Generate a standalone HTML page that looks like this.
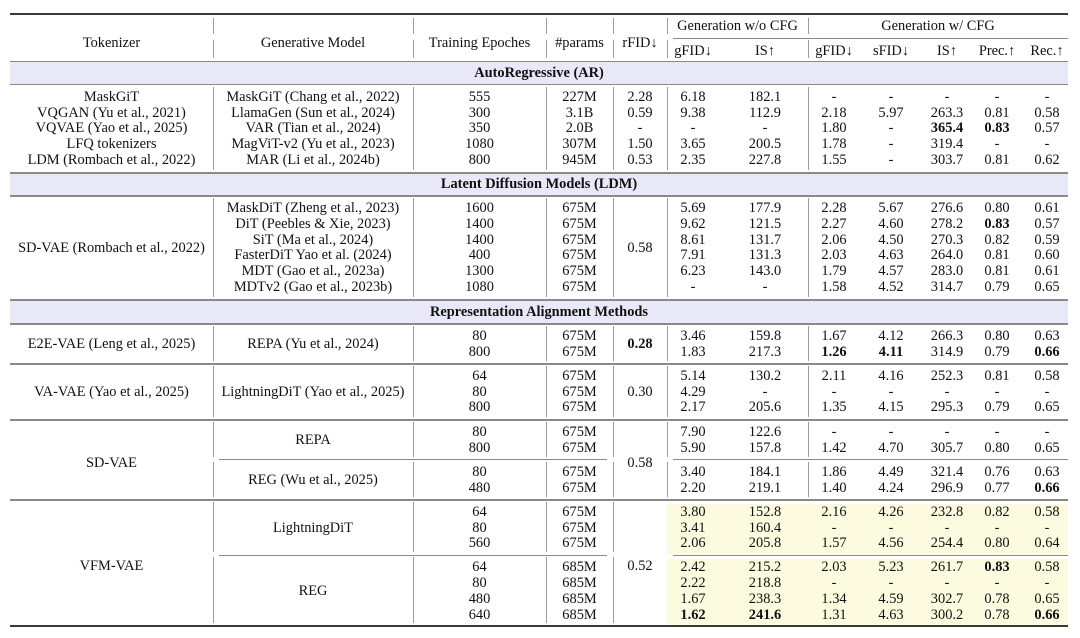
<!DOCTYPE html>
<html>
<head>
<meta charset="utf-8">
<style>
html,body{margin:0;padding:0;background:#fff;}
body{width:1080px;height:638px;position:relative;overflow:hidden;font-family:"Liberation Serif","Times New Roman",serif;font-size:14.4px;color:#111;}
.h{position:absolute;left:10px;width:1058px;height:1.5px;background:#8a8a8a;}
.hk{position:absolute;left:10px;width:1058px;height:1.6px;background:#3a3a3a;}
.cl{position:absolute;height:1.2px;background:#8a8a8a;}
.v{position:absolute;width:1px;background:#9c9c9c;}
.band{position:absolute;left:10px;width:1058px;background:#e8e8f8;}
.yl{position:absolute;left:667px;width:401px;background:#fcfadf;}
.r{position:absolute;left:0;width:1080px;height:16px;line-height:16px;}
.r span{position:absolute;top:0;height:16px;text-align:center;white-space:nowrap;}
.bt{position:absolute;left:10px;width:1058px;height:16px;line-height:16px;text-align:center;font-weight:bold;}
.c1{left:10px;width:203px;}
.c2{left:213px;width:200px;}
.c3{left:413px;width:133px;}
.c4{left:546px;width:67px;}
.c5{left:613px;width:54px;}
.c6{left:663px;width:60px;}
.c7{left:725px;width:80px;}
.c8{left:809px;width:50px;}
.c9{left:866px;width:50px;}
.c10{left:917px;width:60px;}
.c11{left:972px;width:50px;}
.c12{left:1022px;width:50px;}
.g1{left:667px;width:141px;}
.g2{left:808px;width:260px;}
</style>
</head>
<body>

<!-- bands & highlights -->
<div class="band" style="top:62px;height:21.5px"></div>
<div class="band" style="top:173.5px;height:21.5px"></div>
<div class="band" style="top:300.5px;height:22.5px"></div>
<div class="yl" style="top:503.5px;height:51px"></div>
<div class="yl" style="top:559px;height:65.5px"></div>

<!-- horizontal rules -->
<div class="hk" style="top:13.2px"></div>
<div class="cl" style="top:37.5px;left:673px;width:395px"></div>
<div class="h" style="top:60.5px"></div>
<div class="h" style="top:83.5px"></div>
<div class="h" style="top:172px"></div>
<div class="h" style="top:195px"></div>
<div class="h" style="top:299px"></div>
<div class="h" style="top:323px"></div>
<div class="h" style="top:363px"></div>
<div class="h" style="top:419px"></div>
<div class="cl" style="top:459px;left:219px;width:388px"></div>
<div class="cl" style="top:459px;left:673px;width:395px"></div>
<div class="h" style="top:499px"></div>
<div class="cl" style="top:554.5px;left:219px;width:388px"></div>
<div class="cl" style="top:554.5px;left:673px;width:395px"></div>
<div class="hk" style="top:625.3px"></div>

<!-- vertical rules: header -->
<div class="v" style="left:212.5px;top:18px;height:16px"></div>
<div class="v" style="left:412.5px;top:18px;height:16px"></div>
<div class="v" style="left:545.5px;top:18px;height:16px"></div>
<div class="v" style="left:612.5px;top:18px;height:16px"></div>
<div class="v" style="left:666.5px;top:18px;height:16px"></div>
<div class="v" style="left:807.5px;top:18px;height:16px"></div>
<div class="v" style="left:212.5px;top:40px;height:18px"></div>
<div class="v" style="left:412.5px;top:40px;height:18px"></div>
<div class="v" style="left:545.5px;top:40px;height:18px"></div>
<div class="v" style="left:612.5px;top:40px;height:18px"></div>
<div class="v" style="left:666.5px;top:40px;height:18px"></div>
<div class="v" style="left:807.5px;top:40px;height:18px"></div>
<!-- AR block -->
<div class="v" style="left:212.5px;top:87px;height:83px"></div>
<div class="v" style="left:412.5px;top:87px;height:83px"></div>
<div class="v" style="left:545.5px;top:87px;height:83px"></div>
<div class="v" style="left:612.5px;top:87px;height:83px"></div>
<div class="v" style="left:666.5px;top:87px;height:83px"></div>
<div class="v" style="left:807.5px;top:87px;height:83px"></div>
<!-- LDM block -->
<div class="v" style="left:212.5px;top:198px;height:99px"></div>
<div class="v" style="left:412.5px;top:198px;height:99px"></div>
<div class="v" style="left:545.5px;top:198px;height:99px"></div>
<div class="v" style="left:612.5px;top:198px;height:99px"></div>
<div class="v" style="left:666.5px;top:198px;height:99px"></div>
<div class="v" style="left:807.5px;top:198px;height:99px"></div>
<!-- E2E block -->
<div class="v" style="left:212.5px;top:326px;height:35px"></div>
<div class="v" style="left:412.5px;top:326px;height:35px"></div>
<div class="v" style="left:545.5px;top:326px;height:35px"></div>
<div class="v" style="left:612.5px;top:326px;height:35px"></div>
<div class="v" style="left:666.5px;top:326px;height:35px"></div>
<div class="v" style="left:807.5px;top:326px;height:35px"></div>
<!-- VA block -->
<div class="v" style="left:212.5px;top:366px;height:51px"></div>
<div class="v" style="left:412.5px;top:366px;height:51px"></div>
<div class="v" style="left:545.5px;top:366px;height:51px"></div>
<div class="v" style="left:612.5px;top:366px;height:51px"></div>
<div class="v" style="left:666.5px;top:366px;height:51px"></div>
<div class="v" style="left:807.5px;top:366px;height:51px"></div>
<!-- SD REPA block -->
<div class="v" style="left:212.5px;top:422px;height:35px"></div>
<div class="v" style="left:412.5px;top:422px;height:35px"></div>
<div class="v" style="left:545.5px;top:422px;height:35px"></div>
<div class="v" style="left:612.5px;top:422px;height:35px"></div>
<div class="v" style="left:666.5px;top:422px;height:35px"></div>
<div class="v" style="left:807.5px;top:422px;height:35px"></div>
<!-- SD REG block -->
<div class="v" style="left:212.5px;top:462px;height:35px"></div>
<div class="v" style="left:412.5px;top:462px;height:35px"></div>
<div class="v" style="left:545.5px;top:462px;height:35px"></div>
<div class="v" style="left:612.5px;top:462px;height:35px"></div>
<div class="v" style="left:666.5px;top:462px;height:35px"></div>
<div class="v" style="left:807.5px;top:462px;height:35px"></div>
<!-- VFM blocks -->
<div class="v" style="left:212.5px;top:502px;height:50px"></div>
<div class="v" style="left:412.5px;top:502px;height:50px"></div>
<div class="v" style="left:545.5px;top:502px;height:50px"></div>
<div class="v" style="left:612.5px;top:502px;height:50px"></div>
<div class="v" style="left:212.5px;top:557px;height:66px"></div>
<div class="v" style="left:412.5px;top:557px;height:66px"></div>
<div class="v" style="left:545.5px;top:557px;height:66px"></div>
<div class="v" style="left:612.5px;top:557px;height:66px"></div>

<!-- header -->
<div class="r" style="top:18px"><span class="g1">Generation w/o CFG</span><span class="g2">Generation w/ CFG</span></div>
<div class="r" style="top:34.5px"><span class="c1">Tokenizer</span><span class="c2">Generative Model</span><span class="c3">Training Epoches</span><span class="c4">#params</span><span class="c5">rFID↓</span></div>
<div class="r" style="top:43px"><span class="c6">gFID↓</span><span class="c7">IS↑</span><span class="c8">gFID↓</span><span class="c9">sFID↓</span><span class="c10">IS↑</span><span class="c11">Prec.↑</span><span class="c12">Rec.↑</span></div>

<!-- AR -->
<div class="bt" style="top:64.7px">AutoRegressive (AR)</div>
<div class="r" style="top:89px"><span class="c1">MaskGiT</span><span class="c2">MaskGiT (Chang et al., 2022)</span><span class="c3">555</span><span class="c4">227M</span><span class="c5">2.28</span><span class="c6">6.18</span><span class="c7">182.1</span><span class="c8">-</span><span class="c9">-</span><span class="c10">-</span><span class="c11">-</span><span class="c12">-</span></div>
<div class="r" style="top:104.7px"><span class="c1">VQGAN (Yu et al., 2021)</span><span class="c2">LlamaGen (Sun et al., 2024)</span><span class="c3">300</span><span class="c4">3.1B</span><span class="c5">0.59</span><span class="c6">9.38</span><span class="c7">112.9</span><span class="c8">2.18</span><span class="c9">5.97</span><span class="c10">263.3</span><span class="c11">0.81</span><span class="c12">0.58</span></div>
<div class="r" style="top:120.4px"><span class="c1">VQVAE (Yao et al., 2025)</span><span class="c2">VAR (Tian et al., 2024)</span><span class="c3">350</span><span class="c4">2.0B</span><span class="c5">-</span><span class="c6">-</span><span class="c7">-</span><span class="c8">1.80</span><span class="c9">-</span><span class="c10"><b>365.4</b></span><span class="c11"><b>0.83</b></span><span class="c12">0.57</span></div>
<div class="r" style="top:136.1px"><span class="c1">LFQ tokenizers</span><span class="c2">MagViT-v2 (Yu et al., 2023)</span><span class="c3">1080</span><span class="c4">307M</span><span class="c5">1.50</span><span class="c6">3.65</span><span class="c7">200.5</span><span class="c8">1.78</span><span class="c9">-</span><span class="c10">319.4</span><span class="c11">-</span><span class="c12">-</span></div>
<div class="r" style="top:151.8px"><span class="c1">LDM (Rombach et al., 2022)</span><span class="c2">MAR (Li et al., 2024b)</span><span class="c3">800</span><span class="c4">945M</span><span class="c5">0.53</span><span class="c6">2.35</span><span class="c7">227.8</span><span class="c8">1.55</span><span class="c9">-</span><span class="c10">303.7</span><span class="c11">0.81</span><span class="c12">0.62</span></div>

<!-- LDM -->
<div class="bt" style="top:176px">Latent Diffusion Models (LDM)</div>
<div class="r" style="top:239.5px"><span class="c1">SD-VAE (Rombach et al., 2022)</span><span class="c5">0.58</span></div>
<div class="r" style="top:200.3px"><span class="c2">MaskDiT (Zheng et al., 2023)</span><span class="c3">1600</span><span class="c4">675M</span><span class="c6">5.69</span><span class="c7">177.9</span><span class="c8">2.28</span><span class="c9">5.67</span><span class="c10">276.6</span><span class="c11">0.80</span><span class="c12">0.61</span></div>
<div class="r" style="top:216px"><span class="c2">DiT (Peebles &amp; Xie, 2023)</span><span class="c3">1400</span><span class="c4">675M</span><span class="c6">9.62</span><span class="c7">121.5</span><span class="c8">2.27</span><span class="c9">4.60</span><span class="c10">278.2</span><span class="c11"><b>0.83</b></span><span class="c12">0.57</span></div>
<div class="r" style="top:231.7px"><span class="c2">SiT (Ma et al., 2024)</span><span class="c3">1400</span><span class="c4">675M</span><span class="c6">8.61</span><span class="c7">131.7</span><span class="c8">2.06</span><span class="c9">4.50</span><span class="c10">270.3</span><span class="c11">0.82</span><span class="c12">0.59</span></div>
<div class="r" style="top:247.4px"><span class="c2">FasterDiT Yao et al. (2024)</span><span class="c3">400</span><span class="c4">675M</span><span class="c6">7.91</span><span class="c7">131.3</span><span class="c8">2.03</span><span class="c9">4.63</span><span class="c10">264.0</span><span class="c11">0.81</span><span class="c12">0.60</span></div>
<div class="r" style="top:263.1px"><span class="c2">MDT (Gao et al., 2023a)</span><span class="c3">1300</span><span class="c4">675M</span><span class="c6">6.23</span><span class="c7">143.0</span><span class="c8">1.79</span><span class="c9">4.57</span><span class="c10">283.0</span><span class="c11">0.81</span><span class="c12">0.61</span></div>
<div class="r" style="top:278.8px"><span class="c2">MDTv2 (Gao et al., 2023b)</span><span class="c3">1080</span><span class="c4">675M</span><span class="c6">-</span><span class="c7">-</span><span class="c8">1.58</span><span class="c9">4.52</span><span class="c10">314.7</span><span class="c11">0.79</span><span class="c12">0.65</span></div>

<!-- RAM -->
<div class="bt" style="top:303.5px">Representation Alignment Methods</div>
<div class="r" style="top:335.5px"><span class="c1">E2E-VAE (Leng et al., 2025)</span><span class="c2">REPA (Yu et al., 2024)</span><span class="c5"><b>0.28</b></span></div>
<div class="r" style="top:328px"><span class="c3">80</span><span class="c4">675M</span><span class="c6">3.46</span><span class="c7">159.8</span><span class="c8">1.67</span><span class="c9">4.12</span><span class="c10">266.3</span><span class="c11">0.80</span><span class="c12">0.63</span></div>
<div class="r" style="top:343.7px"><span class="c3">800</span><span class="c4">675M</span><span class="c6">1.83</span><span class="c7">217.3</span><span class="c8"><b>1.26</b></span><span class="c9"><b>4.11</b></span><span class="c10">314.9</span><span class="c11">0.79</span><span class="c12"><b>0.66</b></span></div>

<div class="r" style="top:383.6px"><span class="c1">VA-VAE (Yao et al., 2025)</span><span class="c2">LightningDiT (Yao et al., 2025)</span><span class="c5">0.30</span></div>
<div class="r" style="top:367.9px"><span class="c3">64</span><span class="c4">675M</span><span class="c6">5.14</span><span class="c7">130.2</span><span class="c8">2.11</span><span class="c9">4.16</span><span class="c10">252.3</span><span class="c11">0.81</span><span class="c12">0.58</span></div>
<div class="r" style="top:383.6px"><span class="c3">80</span><span class="c4">675M</span><span class="c6">4.29</span><span class="c7">-</span><span class="c8">-</span><span class="c9">-</span><span class="c10">-</span><span class="c11">-</span><span class="c12">-</span></div>
<div class="r" style="top:399.3px"><span class="c3">800</span><span class="c4">675M</span><span class="c6">2.17</span><span class="c7">205.6</span><span class="c8">1.35</span><span class="c9">4.15</span><span class="c10">295.3</span><span class="c11">0.79</span><span class="c12">0.65</span></div>

<div class="r" style="top:454.5px"><span class="c1">SD-VAE</span><span class="c5">0.58</span></div>
<div class="r" style="top:431.8px"><span class="c2">REPA</span></div>
<div class="r" style="top:423.9px"><span class="c3">80</span><span class="c4">675M</span><span class="c6">7.90</span><span class="c7">122.6</span><span class="c8">-</span><span class="c9">-</span><span class="c10">-</span><span class="c11">-</span><span class="c12">-</span></div>
<div class="r" style="top:439.6px"><span class="c3">800</span><span class="c4">675M</span><span class="c6">5.90</span><span class="c7">157.8</span><span class="c8">1.42</span><span class="c9">4.70</span><span class="c10">305.7</span><span class="c11">0.80</span><span class="c12">0.65</span></div>
<div class="r" style="top:471.8px"><span class="c2">REG (Wu et al., 2025)</span></div>
<div class="r" style="top:463.9px"><span class="c3">80</span><span class="c4">675M</span><span class="c6">3.40</span><span class="c7">184.1</span><span class="c8">1.86</span><span class="c9">4.49</span><span class="c10">321.4</span><span class="c11">0.76</span><span class="c12">0.63</span></div>
<div class="r" style="top:479.6px"><span class="c3">480</span><span class="c4">675M</span><span class="c6">2.20</span><span class="c7">219.1</span><span class="c8">1.40</span><span class="c9">4.24</span><span class="c10">296.9</span><span class="c11">0.77</span><span class="c12"><b>0.66</b></span></div>

<div class="r" style="top:558px"><span class="c1">VFM-VAE</span><span class="c5">0.52</span></div>
<div class="r" style="top:519.6px"><span class="c2">LightningDiT</span></div>
<div class="r" style="top:503.9px"><span class="c3">64</span><span class="c4">675M</span><span class="c6">3.80</span><span class="c7">152.8</span><span class="c8">2.16</span><span class="c9">4.26</span><span class="c10">232.8</span><span class="c11">0.82</span><span class="c12">0.58</span></div>
<div class="r" style="top:519.6px"><span class="c3">80</span><span class="c4">675M</span><span class="c6">3.41</span><span class="c7">160.4</span><span class="c8">-</span><span class="c9">-</span><span class="c10">-</span><span class="c11">-</span><span class="c12">-</span></div>
<div class="r" style="top:535.3px"><span class="c3">560</span><span class="c4">675M</span><span class="c6">2.06</span><span class="c7">205.8</span><span class="c8">1.57</span><span class="c9">4.56</span><span class="c10">254.4</span><span class="c11">0.80</span><span class="c12">0.64</span></div>
<div class="r" style="top:583px"><span class="c2">REG</span></div>
<div class="r" style="top:559.4px"><span class="c3">64</span><span class="c4">685M</span><span class="c6">2.42</span><span class="c7">215.2</span><span class="c8">2.03</span><span class="c9">5.23</span><span class="c10">261.7</span><span class="c11"><b>0.83</b></span><span class="c12">0.58</span></div>
<div class="r" style="top:575.1px"><span class="c3">80</span><span class="c4">685M</span><span class="c6">2.22</span><span class="c7">218.8</span><span class="c8">-</span><span class="c9">-</span><span class="c10">-</span><span class="c11">-</span><span class="c12">-</span></div>
<div class="r" style="top:590.8px"><span class="c3">480</span><span class="c4">685M</span><span class="c6">1.67</span><span class="c7">238.3</span><span class="c8">1.34</span><span class="c9">4.59</span><span class="c10">302.7</span><span class="c11">0.78</span><span class="c12">0.65</span></div>
<div class="r" style="top:606.5px"><span class="c3">640</span><span class="c4">685M</span><span class="c6"><b>1.62</b></span><span class="c7"><b>241.6</b></span><span class="c8">1.31</span><span class="c9">4.63</span><span class="c10">300.2</span><span class="c11">0.78</span><span class="c12"><b>0.66</b></span></div>

</body>
</html>
